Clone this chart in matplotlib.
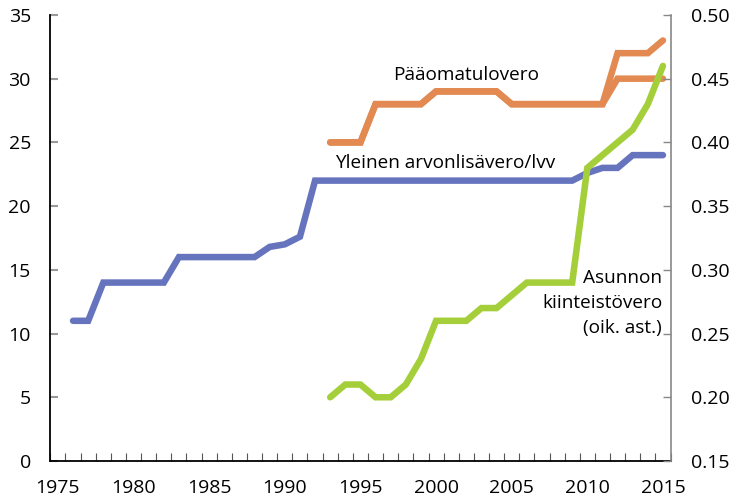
import matplotlib
matplotlib.use("Agg")
import matplotlib.pyplot as plt
from matplotlib.ticker import MultipleLocator, FixedLocator

plt.rcParams['font.family'] = ['Open Sans', 'DejaVu Sans']

# Yleinen arvonlisävero / lvv (vas. ast.)
vat_years = list(range(1976, 2016))
vat = [11, 11, 14, 14, 14, 14, 14, 16, 16, 16, 16, 16, 16, 16.8, 17, 17.6,
       22, 22, 22, 22, 22, 22, 22, 22, 22, 22, 22, 22, 22, 22, 22, 22, 22, 22,
       22.6, 23, 23, 24, 24, 24]

# Pääomatulovero (vas. ast.), kaksi porrasta vuodesta 2012
cap_years = list(range(1993, 2016))
cap_low = [25, 25, 25, 28, 28, 28, 28, 29, 29, 29, 29, 29, 28, 28, 28, 28,
           28, 28, 28, 30, 30, 30, 30]
cap_high = [25, 25, 25, 28, 28, 28, 28, 29, 29, 29, 29, 29, 28, 28, 28, 28,
            28, 28, 28, 32, 32, 32, 33]

# Asunnon kiinteistövero (oik. ast.)
prop_years = list(range(1993, 2016))
prop = [0.20, 0.21, 0.21, 0.20, 0.20, 0.21, 0.23, 0.26, 0.26, 0.26, 0.27,
        0.27, 0.28, 0.29, 0.29, 0.29, 0.29, 0.38, 0.39, 0.40, 0.41, 0.43, 0.46]

blue = '#6674BE'
orange = '#E28A52'
green = '#A5CF3A'
lw = 4.7
fs = 13.7

fig = plt.figure(figsize=(7.3, 4.98), dpi=100)
ax = fig.add_axes([0.069, 0.0743, 0.8495, 0.8957])
ax2 = ax.twinx()

style = dict(lw=lw, solid_capstyle='round', solid_joinstyle='miter')
ax.plot(vat_years, vat, color=blue, zorder=3, **style)
ax.plot(cap_years, cap_low, color=orange, zorder=3, **style)
ax.plot(cap_years, cap_high, color=orange, zorder=3, **style)
ax2.plot(prop_years, prop, color=green, zorder=4, **style)

ax.set_xlim(1974.5, 2015.5)
ax.set_ylim(0, 35)
ax2.set_ylim(0.15, 0.50)

ax.xaxis.set_major_locator(FixedLocator(range(1975, 2016, 5)))
ax.xaxis.set_minor_locator(MultipleLocator(1, offset=0.5))
ax.tick_params(axis='x', which='major', length=0, pad=13, labelsize=14)
ax.tick_params(axis='x', which='minor', direction='in', length=6, width=0.8, color='#555555')
ax.yaxis.set_major_locator(MultipleLocator(5))
ax.tick_params(axis='y', direction='in', length=6, width=1.5, color='#999999', pad=14, labelsize=14)
ax2.yaxis.set_major_locator(MultipleLocator(0.05))
ax2.yaxis.set_major_formatter(plt.FuncFormatter(lambda v, p: f'{v:.2f}'))
ax2.tick_params(axis='y', direction='in', length=6, width=1.0, color='#888888', pad=15, labelsize=14)

ax.spines['top'].set_visible(False)
ax2.spines['top'].set_visible(False)
ax.spines['right'].set_visible(False)
ax2.spines['left'].set_visible(False)
ax2.spines['bottom'].set_visible(False)
ax.spines['left'].set_linewidth(1.3)
ax.spines['bottom'].set_linewidth(1.3)
ax2.spines['right'].set_color('#888888')
ax2.spines['right'].set_linewidth(1.2)

ax.text(2002.0, 29.9, 'Pääomatulovero', ha='center', va='baseline', fontsize=fs)
ax.text(2000.6, 23.0, 'Yleinen arvonlisävero/lvv', ha='center', va='baseline', fontsize=fs)
ax.text(2014.95, 13.97, 'Asunnon', ha='right', va='baseline', fontsize=fs)
ax.text(2014.95, 12.0, 'kiinteistövero', ha='right', va='baseline', fontsize=fs)
ax.text(2014.95, 10.05, '(oik. ast.)', ha='right', va='baseline', fontsize=fs)

fig.savefig('out.png', dpi=100)
